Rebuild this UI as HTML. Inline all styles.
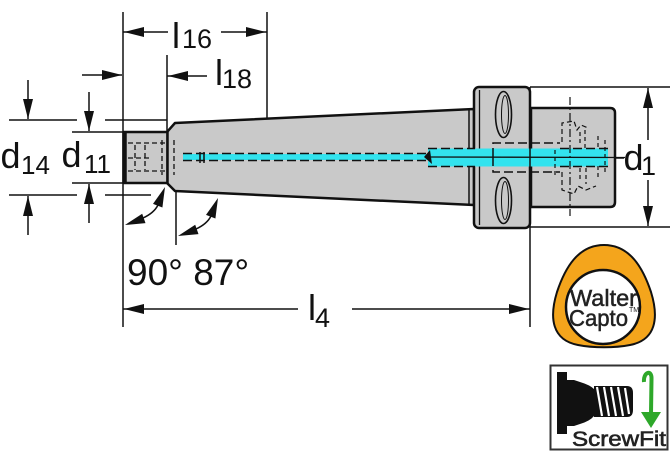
<!DOCTYPE html>
<html><head><meta charset="utf-8"><style>
html,body{margin:0;padding:0;background:#fff;}
svg{display:block;}
text{font-family:"Liberation Sans",Arial,sans-serif;fill:#111;}
</style></head><body>
<svg width="670" height="460" viewBox="0 0 670 460" xmlns="http://www.w3.org/2000/svg">
<rect x="0" y="0" width="670" height="460" fill="#fff"/>

<!-- body shapes -->
<g stroke="#111" stroke-width="2.5" stroke-linejoin="round" fill="#c9c9c9">
  <path d="M167,132 L175,123 L474,109 L474,205 L175,191 L167,183 Z"/>
  <rect x="123.5" y="132" width="44" height="51"/>
  <rect x="474" y="87" width="56" height="141" rx="5"/>
  <path d="M531,108 L610,108 Q615,108 615,113 L615,202 Q615,207 610,207 L531,207 Z"/>
</g>
<line x1="125" y1="132" x2="125" y2="183" stroke="#111" stroke-width="3.5"/>
<line x1="469" y1="110" x2="469" y2="205" stroke="#111" stroke-width="1.5"/>
<line x1="479.5" y1="90" x2="479.5" y2="225" stroke="#111" stroke-width="1.3"/>

<!-- slots -->
<g stroke="#111" stroke-width="1.6" fill="#c9c9c9">
  <ellipse cx="503.5" cy="114.5" rx="8" ry="23"/>
  <ellipse cx="503.5" cy="200.5" rx="8" ry="23"/>
  <ellipse cx="505" cy="114.5" rx="3.5" ry="19" fill="none" stroke-width="1"/>
  <ellipse cx="505" cy="200.5" rx="3.5" ry="19" fill="none" stroke-width="1"/>
</g>

<!-- coolant -->
<rect x="183" y="154" width="245" height="6" fill="#33e3ee"/>
<rect x="428" y="148.5" width="180" height="18" fill="#33e3ee"/>
<g stroke="#111" stroke-width="1.5" stroke-dasharray="9,4" fill="none">
  <line x1="183" y1="153.5" x2="428" y2="153.5"/>
  <line x1="183" y1="160.5" x2="428" y2="160.5"/>
  <line x1="428" y1="148.5" x2="475" y2="148.5"/>
  <line x1="428" y1="166.5" x2="475" y2="166.5"/>
  <path d="M493,157 L493,143 L560,143 M493,157 L493,172 L560,172"/>
  <line x1="560" y1="148.5" x2="612" y2="148.5"/>
  <line x1="560" y1="166.5" x2="612" y2="166.5"/>
</g>
<path d="M424,157 L430,150 L432,164 Z" fill="#111"/>
<line x1="430" y1="157" x2="625" y2="157.5" stroke="#111" stroke-width="1.3"/>
<line x1="200" y1="152" x2="200" y2="163" stroke="#111" stroke-width="1.5"/>
<line x1="204" y1="152" x2="204" y2="163" stroke="#111" stroke-width="1.5"/>

<!-- shank inner dashes -->
<g stroke="#111" stroke-width="1.3" stroke-dasharray="5,3" fill="none">
  <line x1="128" y1="143" x2="166" y2="143"/>
  <line x1="128" y1="171" x2="166" y2="171"/>
  <line x1="128" y1="158" x2="150" y2="158"/>
  <line x1="135" y1="145" x2="135" y2="170"/>
  <line x1="145" y1="145" x2="145" y2="170"/>
  <line x1="162" y1="140" x2="162" y2="175"/>
  <line x1="174" y1="140" x2="174" y2="175"/>
</g>

<!-- capto internal details -->
<g stroke="#111" stroke-width="1.2" fill="none">
  <line x1="570" y1="97" x2="570" y2="216" stroke-dasharray="8,3,2,3"/>
  <path d="M562,142 L562,123 L574,121 L577,130 L581,125 L588,128" stroke-dasharray="5,3"/>
  <path d="M562,172 L562,190 L574,194 L578,186 L586,190 L596,186" stroke-dasharray="5,3"/>
  <path d="M580,132 L580,145 M585,130 L585,148 M598,136 L598,150 M580,168 L580,182 M586,168 L586,184 M598,166 L598,180" stroke-dasharray="4,3"/>
  <path d="M555,150 L555,178 M605,140 L605,175" stroke-dasharray="4,3"/>
</g>

<!-- extension / dimension lines -->
<g stroke="#111" stroke-width="1.5" fill="none">
  <line x1="123" y1="12" x2="123" y2="327"/>
  <line x1="267" y1="12" x2="267" y2="119"/>
  <line x1="167" y1="55" x2="167" y2="183"/>
  <line x1="176" y1="191" x2="176" y2="245"/>
  <line x1="530" y1="87" x2="530" y2="327"/>
  <line x1="123" y1="32" x2="168" y2="32"/>
  <line x1="221" y1="32" x2="267" y2="32"/>
  <line x1="167" y1="76" x2="207" y2="76"/>
  <line x1="82" y1="75" x2="122" y2="75"/>
  <line x1="9" y1="120" x2="77" y2="120"/>
  <line x1="105" y1="120" x2="167" y2="120"/>
  <line x1="72" y1="132" x2="123" y2="132"/>
  <line x1="72" y1="183" x2="123" y2="183"/>
  <line x1="9" y1="195" x2="77" y2="195"/>
  <line x1="105" y1="195" x2="151" y2="195"/>
  <line x1="28" y1="80" x2="28" y2="119"/>
  <line x1="28" y1="196" x2="28" y2="235"/>
  <line x1="89" y1="92" x2="89" y2="131"/>
  <line x1="89" y1="184" x2="89" y2="223"/>
  <line x1="123" y1="309" x2="298" y2="309"/>
  <line x1="352" y1="309" x2="530" y2="309"/>
  <line x1="530" y1="87" x2="670" y2="87"/>
  <line x1="530" y1="227" x2="670" y2="227"/>
  <line x1="648" y1="88" x2="648" y2="140"/>
  <line x1="648" y1="180" x2="648" y2="226"/>
  <line x1="615" y1="158" x2="624" y2="158"/>
  <path d="M143,218 Q154,213 158,205"/>
  <path d="M196,229 Q207,224 211,216"/>
</g>

<!-- arrowheads -->
<g fill="#111">
  <polygon points="124,32 144,27 144,37"/>
  <polygon points="266,32 246,27 246,37"/>
  <polygon points="168,76 188,71 188,81"/>
  <polygon points="122,75 102,70 102,80"/>
  <polygon points="28,119 23,99 33,99"/>
  <polygon points="28,196 23,216 33,216"/>
  <polygon points="89,131 84,111 94,111"/>
  <polygon points="89,184 84,204 94,204"/>
  <polygon points="124,309 144,304 144,314"/>
  <polygon points="529,309 509,304 509,314"/>
  <polygon points="648,88 643,108 653,108"/>
  <polygon points="648,226 643,206 653,206"/>
  <polygon points="125,225 145.5,223.1 142.2,213.7"/>
  <polygon points="165,187 162.4,207.5 153,203.9"/>
  <polygon points="178,236 198.5,234.1 195.2,224.7"/>
  <polygon points="218,198 215.4,218.5 206,214.9"/>
</g>

<!-- labels -->
<text x="0.5" y="168" font-size="36">d</text>
<text x="21" y="174" font-size="26">14</text>
<text x="61.5" y="167" font-size="36">d</text>
<text x="84" y="173" font-size="26">11</text>
<text x="172" y="48" font-size="36">l</text>
<text x="182" y="48" font-size="27">16</text>
<text x="215" y="85" font-size="36">l</text>
<text x="222" y="88" font-size="27">18</text>
<text x="308" y="320" font-size="36">l</text>
<text x="315" y="327" font-size="27">4</text>
<text x="623.5" y="170" font-size="36">d</text>
<text x="641" y="175" font-size="27">1</text>
<text x="127" y="285" font-size="37">90° 87°</text>

<!-- Walter Capto logo -->
<path d="M604,245 C630,245 643,268 651,292 C659,318 656,340 630,345 C615,348 593,348 578,345 C552,340 549,318 557,292 C565,268 578,245 604,245 Z" fill="#f4a51c" stroke="#111" stroke-width="2"/>
<circle cx="603" cy="307" r="37" fill="#fff" stroke="#111" stroke-width="2.5"/>
<text x="570" y="306" font-size="23" textLength="67" lengthAdjust="spacingAndGlyphs" style="fill:#222;stroke:#222;stroke-width:0.5">Walter</text>
<text x="569" y="326" font-size="23" textLength="59" lengthAdjust="spacingAndGlyphs" style="fill:#222;stroke:#222;stroke-width:0.5">Capto</text>
<text x="629" y="312" font-size="7" style="fill:#222">TM</text>

<!-- ScrewFit logo -->
<rect x="550.5" y="365.5" width="117" height="84" fill="#fff" stroke="#333" stroke-width="2"/>
<rect x="557" y="372" width="10" height="62" fill="#111"/>
<path d="M567,380 L574,380 L580,382 Q590,385 594,389 L594,416 Q590,421 580,424 L574,426 L567,426 Z" fill="#111"/>
<path d="M594,386 L627,386 Q633,386 633,393 L633,410 Q633,417 627,417 L594,417 Z" fill="#111"/>
<g stroke="#fff" stroke-width="2.2">
  <line x1="597" y1="387" x2="602" y2="416"/>
  <line x1="604" y1="387" x2="609" y2="416"/>
  <line x1="611" y1="387" x2="616" y2="416"/>
  <line x1="618" y1="387" x2="623" y2="416"/>
  <line x1="625" y1="388" x2="629" y2="414"/>
</g>
<path d="M644,382 C643,372 652,369 651.5,379 L651,414" fill="none" stroke="#2ea82a" stroke-width="4"/>
<polygon points="641,412 661,412 651,428" fill="#2ea82a"/>
<text x="572" y="446" font-size="21" textLength="94" lengthAdjust="spacingAndGlyphs" style="fill:#222;stroke:#222;stroke-width:0.6">ScrewFit</text>
</svg>
</body></html>
